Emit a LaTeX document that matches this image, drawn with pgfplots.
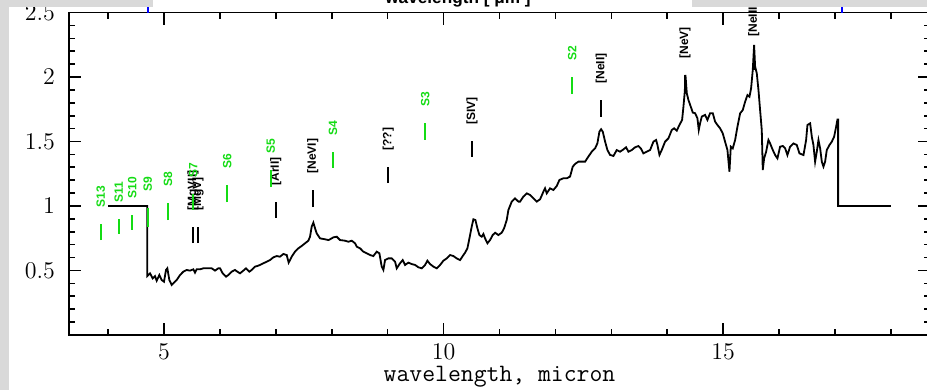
\documentclass[border=0pt]{standalone}
\usepackage{pgfplots}
\pgfplotsset{compat=1.18}
\usepackage{fontspec}
\newfontfamily\labelfont{Liberation Sans}
\definecolor{h2green}{RGB}{20,220,20}
\definecolor{bargray}{RGB}{217,217,217}

% line identification: wavelength, bottom, top, colour, name
\newcommand{\markline}[5]{%
  \addplot[#4, line width=1pt, forget plot] coordinates {(#1,#2) (#1,#3)};
  \node[rotate=90, anchor=west, inner sep=0pt, text=#4,
        font=\labelfont\bfseries\fontsize{6}{7}\selectfont]
        at ([yshift=8pt]axis cs:#1,#3) {#5};
}

\begin{document}
\begin{tikzpicture}[x=1pt,y=1pt]
\useasboundingbox (-34.5,-27.5) rectangle (429,167.5);
\clip (-34.5,-27.5) rectangle (429,167.5);
\fill[white] (-34.5,-27.5) rectangle (429,167.5);
\begin{axis}[
  at={(0,0)}, anchor=south west, scale only axis,
  width=430.5pt, height=161.25pt,
  xmin=3.3, xmax=18.7, ymin=0, ymax=2.5,
  xtick={5,10,15},
  minor xtick={4,6,7,8,9,11,12,13,14,16,17,18},
  ytick={0.5,1,1.5,2,2.5},
  minor ytick={0.1,0.2,0.3,0.4,0.6,0.7,0.8,0.9,1.1,1.2,1.3,1.4,1.6,1.7,1.8,1.9,2.1,2.2,2.3,2.4},
  tick align=inside,
  xtick pos=both, ytick pos=both,
  xticklabel pos=lower, yticklabel pos=left,
  major tick length=6pt, minor tick length=3pt,
  axis line style={line width=0.9pt},
  every tick/.style={black, line width=0.8pt},
  tick label style={font=\fontsize{11.5}{13}\selectfont},
  yticklabel style={xshift=-3.5pt},
  xticklabel style={yshift=-1pt},
  clip=false,
]
% spectrum
\addplot[black, line width=0.9pt, forget plot] coordinates {
(4.0,1.0) (4.70,1.0) (4.70,0.457)
(4.749,0.478) (4.797,0.439) (4.838,0.457) (4.868,0.421) (4.916,0.465)
(4.958,0.426) (4.999,0.413) (5.035,0.504) (5.059,0.517) (5.095,0.426)
(5.137,0.388) (5.166,0.401) (5.226,0.426) (5.286,0.465) (5.345,0.491)
(5.405,0.504) (5.464,0.499) (5.524,0.509) (5.554,0.483) (5.584,0.509)
(5.643,0.509) (5.703,0.517) (5.763,0.517) (5.852,0.517) (5.912,0.499)
(5.971,0.517) (6.001,0.517) (6.049,0.478) (6.108,0.452) (6.150,0.465)
(6.210,0.491) (6.269,0.504) (6.311,0.491) (6.359,0.478) (6.418,0.499)
(6.466,0.517) (6.526,0.491) (6.568,0.504) (6.627,0.530) (6.669,0.535)
(6.717,0.543) (6.776,0.556) (6.836,0.568) (6.896,0.581) (6.955,0.602)
(7.015,0.612) (7.074,0.607) (7.134,0.628) (7.194,0.620) (7.229,0.561)
(7.283,0.607) (7.343,0.646) (7.402,0.672) (7.462,0.690) (7.522,0.711)
(7.581,0.731) (7.611,0.762) (7.641,0.840) (7.671,0.871) (7.701,0.827)
(7.730,0.788) (7.790,0.749) (7.879,0.742) (7.939,0.736)
(7.969,0.742) (8.029,0.757) (8.088,0.762) (8.148,0.736) (8.237,0.731)
(8.297,0.723) (8.357,0.731) (8.416,0.711) (8.446,0.685) (8.506,0.672)
(8.565,0.646) (8.625,0.633) (8.685,0.620) (8.744,0.612) (8.804,0.646)
(8.852,0.633) (8.893,0.530) (8.923,0.504) (8.953,0.581) (9.013,0.594)
(9.072,0.594) (9.132,0.568) (9.162,0.517) (9.221,0.556) (9.269,0.581)
(9.311,0.543) (9.370,0.561) (9.430,0.550) (9.490,0.543) (9.549,0.525)
(9.609,0.517) (9.669,0.543) (9.710,0.576) (9.758,0.550) (9.818,0.530)
(9.877,0.517) (9.937,0.543) (9.997,0.576) (10.056,0.594) (10.116,0.620)
(10.175,0.612) (10.235,0.594) (10.295,0.581) (10.342,0.612) (10.384,0.638)
(10.426,0.672) (10.462,0.749) (10.503,0.840) (10.533,0.897) (10.569,0.891)
(10.605,0.827) (10.640,0.775) (10.682,0.762) (10.712,0.783) (10.742,0.749)
(10.784,0.711) (10.831,0.736) (10.879,0.775) (10.921,0.793) (10.980,0.775)
(11.040,0.793) (11.082,0.827) (11.129,0.891) (11.159,0.969) (11.219,1.034)
(11.278,1.059) (11.338,1.034)
(11.368,1.034) (11.428,1.073) (11.487,1.098) (11.547,1.085) (11.607,1.060)
(11.666,1.034) (11.726,1.052) (11.785,1.111) (11.815,1.137) (11.845,1.098)
(11.905,1.137) (11.964,1.124) (12.024,1.155) (12.072,1.202) (12.143,1.215)
(12.203,1.215) (12.262,1.228) (12.310,1.305) (12.352,1.326) (12.412,1.344)
(12.471,1.344) (12.531,1.344) (12.590,1.383) (12.650,1.421) (12.710,1.447)
(12.751,1.486) (12.787,1.576) (12.817,1.595) (12.847,1.576) (12.889,1.499)
(12.930,1.434) (12.978,1.396) (13.038,1.388) (13.097,1.434) (13.157,1.421)
(13.217,1.439) (13.264,1.455) (13.306,1.421) (13.366,1.434) (13.425,1.455)
(13.485,1.465) (13.527,1.447) (13.574,1.408) (13.634,1.421) (13.694,1.434)
(13.753,1.499) (13.801,1.512) (13.825,1.473) (13.861,1.396) (13.902,1.434)
(13.962,1.499) (14.022,1.525) (14.081,1.589) (14.123,1.602) (14.171,1.584)
(14.218,1.628) (14.266,1.667) (14.290,1.770) (14.314,1.887) (14.326,2.016)
(14.350,1.874) (14.379,1.822) (14.421,1.770) (14.457,1.724) (14.499,1.719)
(14.540,1.680) (14.564,1.589) (14.588,1.641) (14.618,1.693) (14.677,1.706)
(14.719,1.667) (14.767,1.719) (14.815,1.719) (14.856,1.654) (14.898,1.628)
(14.946,1.602)
(14.993,1.563) (15.035,1.498) (15.077,1.434) (15.113,1.266) (15.137,1.460)
(15.172,1.447) (15.214,1.511) (15.256,1.615) (15.304,1.718) (15.351,1.744)
(15.393,1.808) (15.435,1.860) (15.471,1.847) (15.500,1.912) (15.530,2.054)
(15.554,2.248) (15.572,2.080) (15.602,2.028) (15.632,1.899) (15.661,1.744)
(15.691,1.589) (15.709,1.279) (15.733,1.369) (15.769,1.421) (15.810,1.511)
(15.840,1.485) (15.888,1.434) (15.930,1.395) (15.971,1.369) (16.019,1.460)
(16.067,1.465) (16.109,1.447) (16.150,1.395) (16.198,1.460) (16.258,1.485)
(16.317,1.473) (16.365,1.408) (16.437,1.395) (16.484,1.511) (16.508,1.628)
(16.556,1.641) (16.586,1.537) (16.615,1.473) (16.645,1.343) (16.675,1.421)
(16.705,1.511) (16.735,1.447) (16.765,1.343) (16.794,1.305) (16.824,1.343)
(16.854,1.434) (16.902,1.473) (16.943,1.498) (16.985,1.537) (17.021,1.615)
(17.045,1.671) (17.057,1.671) (17.057,1.0) (18.0,1.0)
};
% H2 rotational lines
\markline{3.87}{0.736}{0.860}{h2green}{S13}
\markline{4.19}{0.783}{0.899}{h2green}{S11}
\markline{4.43}{0.814}{0.930}{h2green}{S10}
\markline{4.71}{0.837}{0.984}{h2green}{S9}
\markline{5.07}{0.891}{1.023}{h2green}{S8}
% fine-structure lines
\markline{5.52}{0.713}{0.837}{black}{[MgVII]}
\markline{5.61}{0.713}{0.837}{black}{[MgV]}
\markline{7.00}{0.907}{1.031}{black}{[ArII]}
\markline{7.66}{0.992}{1.124}{black}{[NeVI]}
\markline{9.01}{1.178}{1.302}{black}{[??]}
\markline{10.51}{1.380}{1.504}{black}{[SIV]}
\markline{12.82}{1.690}{1.822}{black}{[NeII]}
\markline{14.32}{1.884}{2.016}{black}{[NeV]}
\markline{15.55}{2.054}{2.186}{black}{[NeIII]}
\markline{5.52}{0.969}{1.093}{h2green}{S7}
\markline{6.13}{1.031}{1.163}{h2green}{S6}
\markline{6.91}{1.147}{1.279}{h2green}{S5}
\markline{8.02}{1.295}{1.419}{h2green}{S4}
\markline{9.67}{1.512}{1.643}{h2green}{S3}
\markline{12.30}{1.868}{2.000}{h2green}{S2}
% range of the spectrum on the upper axis
\addplot[blue, line width=0.8pt, forget plot] coordinates {(4.713,2.5) (4.713,2.56)};
\addplot[blue, line width=0.8pt, forget plot] coordinates {(17.128,2.5) (17.128,2.56)};
\node[font=\ttfamily\fontsize{12.5}{14}\selectfont, anchor=base]
  at ([yshift=-23.5pt]axis description cs:0.5,0) {wavelength, micron};
\end{axis}
\node[font=\labelfont\bfseries\fontsize{8.6}{10}\selectfont, anchor=base]
  at (194.5,165.5) {wavelength [ μm ]};
\fill[bargray] (-34.5,-27.5) rectangle (-30,167.5);
\fill[bargray] (-34.5,163.85) rectangle (42,167.5);
\fill[bargray] (311.5,163.85) rectangle (429,167.5);
\end{tikzpicture}
\end{document}
